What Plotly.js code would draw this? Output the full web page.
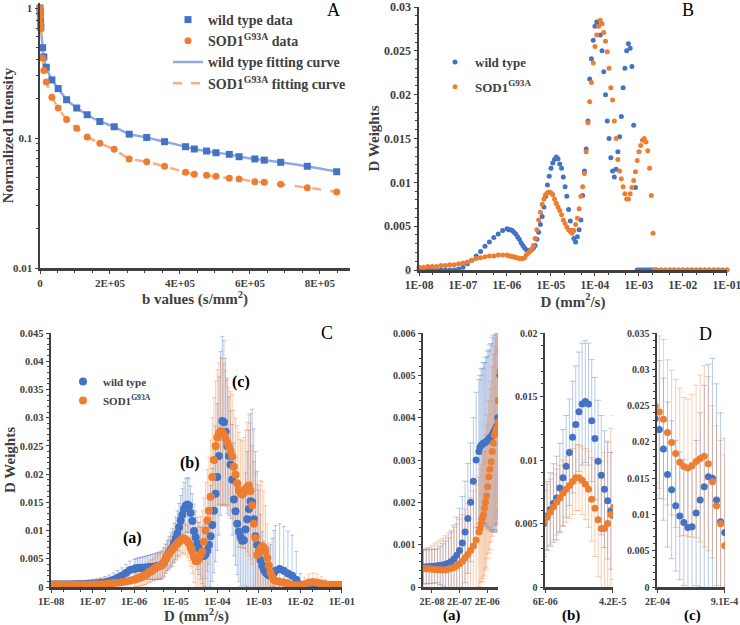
<!DOCTYPE html>
<html><head><meta charset="utf-8">
<script src="https://cdn.plot.ly/plotly-3.0.1.min.js"></script>
<style>html,body{margin:0;padding:0;background:#fff}#chart{width:740px;height:625px}</style>
</head><body><div id="chart"></div>
<script>
// ---------- Panel A : signal decay ----------
const bValues = [0,600,1200,1800,2400,7600,11000,18000,34000,52000,76000,105000,135000,171000,212000,255000,305000,356000,416000,441000,476000,503000,541000,569000,614000,641000,688000,764000,848000];
const wtIntensity = [1.0,0.93,0.85,0.78,0.71,0.495,0.42,0.35,0.28,0.24,0.197,0.17,0.151,0.134,0.122,0.107,0.101,0.0937,0.0857,0.0823,0.0794,0.077,0.0749,0.0718,0.069,0.0676,0.065,0.0606,0.055];
const sodIntensity = [1.0,0.93,0.85,0.76,0.69,0.41,0.33,0.27,0.206,0.17,0.139,0.119,0.102,0.091,0.082,0.069,0.0657,0.0605,0.0544,0.0526,0.0516,0.0507,0.049,0.0484,0.0461,0.0456,0.044,0.0415,0.0385];

// ---------- Panels B-D : diffusion spectra, log10(D) grid ----------
const logD = [
-8.0,-7.9,-7.8,-7.7,-7.6,-7.5,-7.4,-7.3,-7.2,-7.1,
-7.0,-6.9,-6.8,-6.7,-6.6,-6.5,-6.4,-6.3,-6.2,-6.1,
-6.00,-5.96,-5.92,-5.88,-5.84,-5.80,-5.76,-5.72,-5.68,-5.64,
-5.60,-5.56,-5.52,-5.48,-5.44,-5.40,-5.36,-5.32,-5.28,-5.24,
-5.20,-5.16,-5.12,-5.08,-5.04,-5.00,-4.96,-4.92,-4.88,-4.84,
-4.80,-4.76,-4.72,-4.68,-4.64,-4.60,-4.56,-4.52,-4.48,-4.44,
-4.40,-4.36,-4.32,-4.28,-4.24,-4.20,-4.16,-4.12,-4.08,-4.04,
-4.00,-3.96,-3.92,-3.88,-3.84,-3.80,-3.76,-3.72,-3.68,-3.64,
-3.60,-3.56,-3.52,-3.48,-3.44,-3.40,-3.36,-3.32,-3.28,-3.24,
-3.20,-3.16,-3.12,-3.08,-3.04,-3.00,-2.96,-2.92,-2.88,-2.84,
-2.80,-2.76,-2.72,-2.68,-2.64,-2.60,
-2.5,-2.4,-2.3,-2.2,-2.1,-2.0,-1.9,-1.8,-1.7,-1.6,
-1.5,-1.4,-1.3,-1.2,-1.1,-1.0];

// Panel B (single spectra)
const bWildType = [
0,0,0,0,0,0,0,0,0,0.0001,
0.0003,0.0007,0.0011,0.0016,0.0021,0.0027,0.0032,0.0037,0.0041,0.0045,
0.0047,0.0046,0.0046,0.0045,0.0043,0.0041,0.0038,0.0035,0.0031,0.0028,
0.0025,0.0023,0.0022,0.0022,0.0023,0.0025,0.0028,0.0035,0.0043,0.0052,
0.0061,0.0072,0.0084,0.0097,0.0107,0.0116,0.0122,0.0126,0.0129,0.0127,
0.0121,0.0116,0.0106,0.0095,0.0084,0.0069,0.0056,0.0045,0.0036,0.0032,
0.0038,0.0046,0.0057,0.0085,0.0113,0.0138,0.0170,0.0218,0.0241,0.0262,
0.0278,0.0283,0.0279,0.0268,0.0250,0.0226,0.0200,0.0170,0.0150,0.0128,
0.0113,0.0106,0.0115,0.0135,0.0152,0.0175,0.0208,0.0230,0.0250,0.0258,
0.0253,0.0232,0.0165,0.0094,0,0,0,0,0,0,
0,0,0,0,0,0,
0,0,0,0,0,0,0,0,0,0,
0,0,0,0,0,0];
const bSOD1 = [
0.0003,0.0003,0.0004,0.0004,0.0004,0.0005,0.0005,0.0006,0.0006,0.0007,
0.0008,0.0009,0.0011,0.0013,0.0014,0.0015,0.0016,0.0016,0.0017,0.0017,
0.0017,0.0016,0.0016,0.0015,0.0015,0.0014,0.0014,0.0013,0.0013,0.0013,
0.0014,0.0017,0.0019,0.0021,0.0024,0.0028,0.0036,0.0046,0.0057,0.0066,
0.0075,0.0081,0.0086,0.0088,0.0089,0.0088,0.0086,0.0081,0.0076,0.0072,
0.0068,0.0063,0.0057,0.0053,0.0049,0.0046,0.0044,0.0042,0.0045,0.0052,
0.0059,0.0070,0.0084,0.0095,0.0110,0.0135,0.0168,0.0192,0.0214,0.0236,
0.0255,0.0268,0.0278,0.0285,0.0281,0.0271,0.0261,0.0249,0.0230,0.0208,
0.0194,0.0170,0.0150,0.0126,0.0113,0.0104,0.0095,0.0087,0.0081,0.0081,
0.0087,0.0094,0.0102,0.0112,0.0125,0.0135,0.0142,0.0148,0.0150,0.0146,
0.0136,0.0116,0.0085,0.0042,0,0,
0,0,0,0,0,0,0,0,0,0,
0,0,0,0,0,0];

// Panels C and D (mean spectra with SD)
const cWildType = [
0.00047,0.00048,0.00048,0.00049,0.00049,0.0005,0.00051,0.00052,0.00054,0.00056,
0.0006,0.00066,0.00075,0.00086,0.00104,0.0013,0.00162,0.002,0.0025,0.003,
0.0032,0.0033,0.00335,0.00337,0.0034,0.0034,0.00342,0.00345,0.00347,0.0035,
0.00352,0.00355,0.0036,0.00365,0.0037,0.00375,0.0038,0.004,0.0044,0.005,
0.0056,0.0061,0.0066,0.0070,0.0078,0.0086,0.0095,0.0106,0.0118,0.0128,
0.0138,0.0144,0.0146,0.0144,0.0131,0.0117,0.0099,0.0088,0.0077,0.0068,
0.0060,0.0056,0.0055,0.0058,0.0065,0.0075,0.0090,0.0110,0.0135,0.0165,
0.0195,0.0232,0.0272,0.0294,0.0292,0.0275,0.0250,0.0232,0.0217,0.0190,
0.0155,0.0134,0.0112,0.0098,0.0089,0.0082,0.0083,0.0102,0.0120,0.0138,
0.0152,0.0150,0.0120,0.0090,0.0075,0.0062,0.0048,0.0038,0.0031,0.0026,
0.0023,0.0021,0.0020,0.0021,0.0025,0.0029,
0.0032,0.0029,0.0024,0.0020,0.0013,0.0004,0.0001,0.0001,0.0001,0.0001,
0.0001,0.0001,0.0001,0.0001,0.0001,0.0001];
const cSOD1 = [
0.00044,0.00043,0.00043,0.00042,0.00042,0.00041,0.00041,0.0004,0.00041,0.00042,
0.00044,0.00046,0.0005,0.00055,0.00061,0.00069,0.00077,0.00086,0.00097,0.00111,
0.0013,0.00138,0.0015,0.00163,0.0017,0.00186,0.002,0.00215,0.00237,0.0026,
0.00278,0.00296,0.0032,0.0034,0.00359,0.00366,0.00375,0.0039,0.0044,0.0051,
0.0055,0.0059,0.0063,0.0067,0.0070,0.0074,0.0077,0.0080,0.0083,0.0086,
0.0086,0.0084,0.0081,0.0077,0.0069,0.0062,0.0053,0.0046,0.0046,0.0050,
0.0057,0.0063,0.0080,0.0100,0.0118,0.0135,0.0160,0.0195,0.0225,0.0250,
0.0265,0.0272,0.0276,0.0275,0.0270,0.0263,0.0256,0.0249,0.0241,0.0231,
0.0213,0.0199,0.0184,0.0172,0.0166,0.0164,0.0167,0.0173,0.0177,0.0180,
0.0170,0.0145,0.0112,0.0087,0.0057,0.0060,0.0068,0.0072,0.0070,0.0064,
0.0052,0.0038,0.0026,0.0018,0.0013,0.0011,
0.0009,0.0008,0.0006,0.0004,0.0003,0.0003,0.0005,0.0008,0.0009,0.0008,
0.0006,0.0005,0.0004,0.0004,0.0004,0.0004];
const cWildTypeErr = [
0.0004,0.0004,0.0004,0.0004,0.0004,0.0004,0.00045,0.0005,0.00055,0.0006,
0.0007,0.0008,0.0009,0.001,0.0011,0.0012,0.0013,0.0014,0.0015,0.0016,
0.0017,0.0017,0.0018,0.0018,0.0019,0.0019,0.002,0.002,0.0021,0.0021,
0.0022,0.0022,0.0023,0.0023,0.0024,0.0024,0.0025,0.0025,0.0026,0.0026,
0.0027,0.0029,0.0031,0.0033,0.0035,0.0038,0.004,0.0042,0.0044,0.0046,
0.0047,0.0048,0.0048,0.0048,0.0048,0.0048,0.0048,0.0047,0.0046,0.0046,
0.0046,0.005,0.0055,0.006,0.007,0.008,0.009,0.010,0.011,0.012,
0.013,0.014,0.0145,0.015,0.0145,0.013,0.012,0.0105,0.0095,0.0098,
0.0100,0.0095,0.0090,0.0088,0.0087,0.0085,0.0088,0.0100,0.0120,0.0140,
0.0155,0.0165,0.016,0.015,0.013,0.011,0.008,0.006,0.005,0.0045,
0.0045,0.005,0.0055,0.0065,0.0075,0.008,
0.008,0.0078,0.0075,0.0072,0.005,0.002,0.0008,0.0003,0.0003,0.0003,
0.0003,0.0003,0.0003,0.0003,0.0003,0.0003];
const cSOD1Err = [
0.00045,0.00048,0.0005,0.00055,0.0006,0.00065,0.0007,0.00075,0.0008,0.00085,
0.0009,0.00095,0.001,0.00105,0.0011,0.00115,0.0012,0.00125,0.0013,0.0013,
0.0013,0.0014,0.0014,0.0015,0.0015,0.0016,0.0016,0.0017,0.0017,0.0018,
0.0019,0.0019,0.002,0.0021,0.0021,0.0022,0.0023,0.0023,0.0024,0.0025,
0.0026,0.0026,0.0026,0.0026,0.0026,0.0026,0.0026,0.0026,0.0026,0.0026,
0.0026,0.0027,0.0028,0.003,0.0033,0.0038,0.0045,0.0053,0.006,0.0065,
0.0068,0.0072,0.0078,0.0085,0.009,0.0095,0.010,0.0105,0.011,0.0115,
0.012,0.0125,0.013,0.013,0.0125,0.012,0.011,0.0105,0.0105,0.011,
0.010,0.010,0.0102,0.0102,0.0095,0.0095,0.0098,0.0105,0.0115,0.0125,
0.012,0.0105,0.011,0.0115,0.0125,0.012,0.012,0.0115,0.010,0.008,
0.006,0.004,0.0025,0.0015,0.0012,0.001,
0.0008,0.0007,0.0006,0.0005,0.0005,0.0008,0.0012,0.0015,0.0016,0.0015,
0.0012,0.0008,0.0005,0.0004,0.0003,0.0003];

// tick labels
const decadeVals = [1e-8,1e-7,1e-6,1e-5,1e-4,1e-3,1e-2,1e-1];
const decadeText = ['1E-08','1E-07','1E-06','1E-05','1E-04','1E-03','1E-02','1E-01'];
const bTickVals = [0,200000,400000,600000,800000];
const bTickText = ['0','2E+05','4E+05','6E+05','8E+05'];

// ---------- build ----------
const D = logD.map(v => Math.pow(10, v));
const BLUE = '#4472C4', ORANGE = '#ED7D31';
const BLUE_ERR = 'rgba(68,114,196,0.38)', ORANGE_ERR = 'rgba(237,125,49,0.38)';
const SERIF = 'Liberation Serif, Times New Roman, serif';
const SOD = 'SOD1<sup>G93A</sup>';
const W = 740, H = 625;
const px = v => v / W, py = v => 1 - v / H;

const traces = [];
// A
traces.push({x:bValues, y:wtIntensity, xaxis:'x', yaxis:'y', mode:'lines', name:'wild type fitting curve',
  line:{color:'#8FAADC', width:2.5, shape:'spline', smoothing:0.5}, legend:'legend', legendrank:3, hoverinfo:'skip'});
traces.push({x:bValues, y:sodIntensity, xaxis:'x', yaxis:'y', mode:'lines', name:SOD+' fitting curve',
  line:{color:'#F4B183', width:2.5, dash:'dash', shape:'spline', smoothing:0.5}, legend:'legend', legendrank:4, hoverinfo:'skip'});
traces.push({x:bValues, y:wtIntensity, xaxis:'x', yaxis:'y', mode:'markers', name:'wild type data',
  marker:{symbol:'square', size:7, color:BLUE}, legend:'legend', legendrank:1, cliponaxis:false});
traces.push({x:bValues, y:sodIntensity, xaxis:'x', yaxis:'y', mode:'markers', name:SOD+' data',
  marker:{symbol:'circle', size:7, color:ORANGE}, legend:'legend', legendrank:2, cliponaxis:false});
// B
traces.push({x:D, y:bWildType, xaxis:'x2', yaxis:'y2', mode:'markers', name:'wild type',
  marker:{size:5, color:BLUE}, legend:'legend2', legendgroup:'bw', cliponaxis:false});
traces.push({x:D, y:bSOD1, xaxis:'x2', yaxis:'y2', mode:'markers', name:SOD,
  marker:{size:5, color:ORANGE}, legend:'legend2', legendgroup:'bs', cliponaxis:false});
// C and D panels
const panels = [
  {xa:'x3', ya:'y3', size:8, cap:2, legend:true},
  {xa:'x4', ya:'y4', size:7, cap:3, legend:false},
  {xa:'x5', ya:'y5', size:7, cap:3, legend:false},
  {xa:'x6', ya:'y6', size:7, cap:3, legend:false}
];
panels.forEach(p => {
  traces.push({x:D, y:cWildType, xaxis:p.xa, yaxis:p.ya, mode:'markers', showlegend:false, hoverinfo:'skip',
    marker:{size:2, opacity:0, color:BLUE},
    error_y:{type:'data', array:cWildTypeErr, visible:true, color:BLUE_ERR, thickness:1, width:p.cap}});
  traces.push({x:D, y:cSOD1, xaxis:p.xa, yaxis:p.ya, mode:'markers', showlegend:false, hoverinfo:'skip',
    marker:{size:2, opacity:0, color:ORANGE},
    error_y:{type:'data', array:cSOD1Err, visible:true, color:ORANGE_ERR, thickness:1, width:p.cap}});
});
panels.forEach(p => {
  traces.push({x:D, y:cWildType, xaxis:p.xa, yaxis:p.ya, mode:'markers', name:'wild type',
    marker:{size:p.size, color:BLUE}, showlegend:p.legend, legend:'legend3'});
  traces.push({x:D, y:cSOD1, xaxis:p.xa, yaxis:p.ya, mode:'markers', name:SOD,
    marker:{size:p.size, color:ORANGE}, showlegend:p.legend, legend:'legend3'});
});

function tf(size){ return {family:SERIF, size:size, color:'#404040', weight:'bold'}; }
function ax(extra){
  return Object.assign({showline:true, linecolor:'#404040', linewidth:2.5, showgrid:false, zeroline:false,
    ticks:'outside', ticklen:3, tickcolor:'#404040', tickwidth:1, ticklabeloverflow:'allow'}, extra);
}
const titleFont = {family:SERIF, size:15, color:'#404040', weight:'bold'};

const layout = {
  width:W, height:H, margin:{l:0,r:0,t:0,b:0}, paper_bgcolor:'#fff', plot_bgcolor:'rgba(0,0,0,0)',
  showlegend:true,
  xaxis: ax({domain:[px(40),px(350)], range:[0,886000], anchor:'y', tickmode:'array', tickvals:bTickVals, ticktext:bTickText,
    tickfont:tf(11), minor:{ticks:'outside', ticklen:2, dtick:50000, tickcolor:'#404040'},
    title:{text:'b values (s/mm<sup>2</sup>)', font:titleFont, standoff:4}}),
  yaxis: ax({domain:[py(268),py(3)], type:'log', range:[-2,0.0385], anchor:'x', tickmode:'array',
    tickvals:[0.01,0.1,1], ticktext:['0.01','0.1','1'], tickfont:tf(11),
    minor:{ticks:'outside', ticklen:2, dtick:'D1', tickcolor:'#404040'},
    title:{text:'Normalized Intensity', font:titleFont, standoff:1}}),
  xaxis2: ax({domain:[px(419),px(727)], type:'log', range:[-8,-0.999], anchor:'y2', tickmode:'array',
    tickvals:decadeVals, ticktext:decadeText, tickfont:tf(11.5),
    minor:{ticks:'outside', ticklen:2, dtick:'D2', tickcolor:'#404040'},
    title:{text:'D (mm<sup>2</sup>/s)', font:titleFont, standoff:4}}),
  yaxis2: ax({domain:[py(270),py(7)], range:[0,0.03], anchor:'x2', dtick:0.005, tickfont:tf(12),
    minor:{ticks:'outside', ticklen:2, dtick:0.001, tickcolor:'#404040'},
    title:{text:'D Weights', font:titleFont, standoff:1}}),
  xaxis3: ax({domain:[px(51),px(342)], type:'log', range:[-8,-0.999], anchor:'y3', tickmode:'array',
    tickvals:decadeVals, ticktext:decadeText, tickfont:tf(10.5),
    minor:{ticks:'outside', ticklen:2, dtick:'D2', tickcolor:'#404040'},
    title:{text:'D (mm<sup>2</sup>/s)', font:titleFont, standoff:4}}),
  yaxis3: ax({domain:[py(587),py(333)], range:[0,0.045], anchor:'x3', dtick:0.005, tickfont:tf(10.5),
    minor:{ticks:'outside', ticklen:2, dtick:0.001, tickcolor:'#404040'},
    title:{text:'D Weights', font:titleFont, standoff:1}}),
  xaxis4: ax({domain:[px(423),px(498)], type:'log', range:[-8.02,-5.31], anchor:'y4', tickmode:'array',
    tickvals:[2e-8,2e-7,2e-6], ticktext:['2E-08','2E-07','2E-06'], tickfont:tf(10)}),
  yaxis4: ax({domain:[py(587),py(333)], range:[0,0.006], anchor:'x4', dtick:0.001, tickfont:tf(10),
    minor:{ticks:'outside', ticklen:2, dtick:0.0002, tickcolor:'#404040'}}),
  xaxis5: ax({domain:[px(545),px(613)], type:'log', range:[-5.226,-4.373], anchor:'y5', tickmode:'array',
    tickvals:[6e-6,4.2e-5], ticktext:['6E-06','4.2E-5'], tickfont:tf(10)}),
  yaxis5: ax({domain:[py(587),py(333)], range:[0,0.02], anchor:'x5', dtick:0.005, tickfont:tf(10),
    minor:{ticks:'outside', ticklen:2, dtick:0.001, tickcolor:'#404040'}}),
  xaxis6: ax({domain:[px(657),px(725)], type:'log', range:[-3.703,-3.037], anchor:'y6', tickmode:'array',
    tickvals:[2e-4,9.1e-4], ticktext:['2E-04','9.1E-4'], tickfont:tf(10)}),
  yaxis6: ax({domain:[py(587),py(333)], range:[0,0.035], anchor:'x6', dtick:0.005, tickfont:tf(10),
    minor:{ticks:'outside', ticklen:2, dtick:0.001, tickcolor:'#404040'}}),
  legend: {x:px(168), y:py(4), xanchor:'left', yanchor:'top', bgcolor:'rgba(0,0,0,0)', font:tf(14)},
  legend2: {x:px(435), y:py(47), xanchor:'left', yanchor:'top', bgcolor:'rgba(0,0,0,0)', font:tf(13),
    traceorder:'grouped', tracegroupgap:5},
  legend3: {x:px(63), y:py(367), xanchor:'left', yanchor:'top', bgcolor:'rgba(0,0,0,0)', font:tf(11)},
  annotations: [
    {text:'A', x:px(333), y:py(10)},
    {text:'B', x:px(688), y:py(10)},
    {text:'C', x:px(327), y:py(333)},
    {text:'D', x:px(705), y:py(334)},
    {text:'(a)', x:px(132), y:py(538), bold:16},
    {text:'(b)', x:px(190), y:py(463), bold:16},
    {text:'(c)', x:px(241), y:py(382), bold:16},
    {text:'(a)', x:px(452), y:py(615), bold:15},
    {text:'(b)', x:px(571), y:py(615), bold:15},
    {text:'(c)', x:px(692), y:py(615), bold:15}
  ].map(a => ({text:a.text, x:a.x, y:a.y, xref:'paper', yref:'paper', showarrow:false, xanchor:'center', yanchor:'middle',
    font: a.bold ? {family:SERIF, size:a.bold, color:'#000', weight:'bold'} : {family:SERIF, size:18, color:'#000'}}))
};

Plotly.newPlot('chart', traces, layout, {staticPlot:true, displayModeBar:false});
</script>
</body></html>
